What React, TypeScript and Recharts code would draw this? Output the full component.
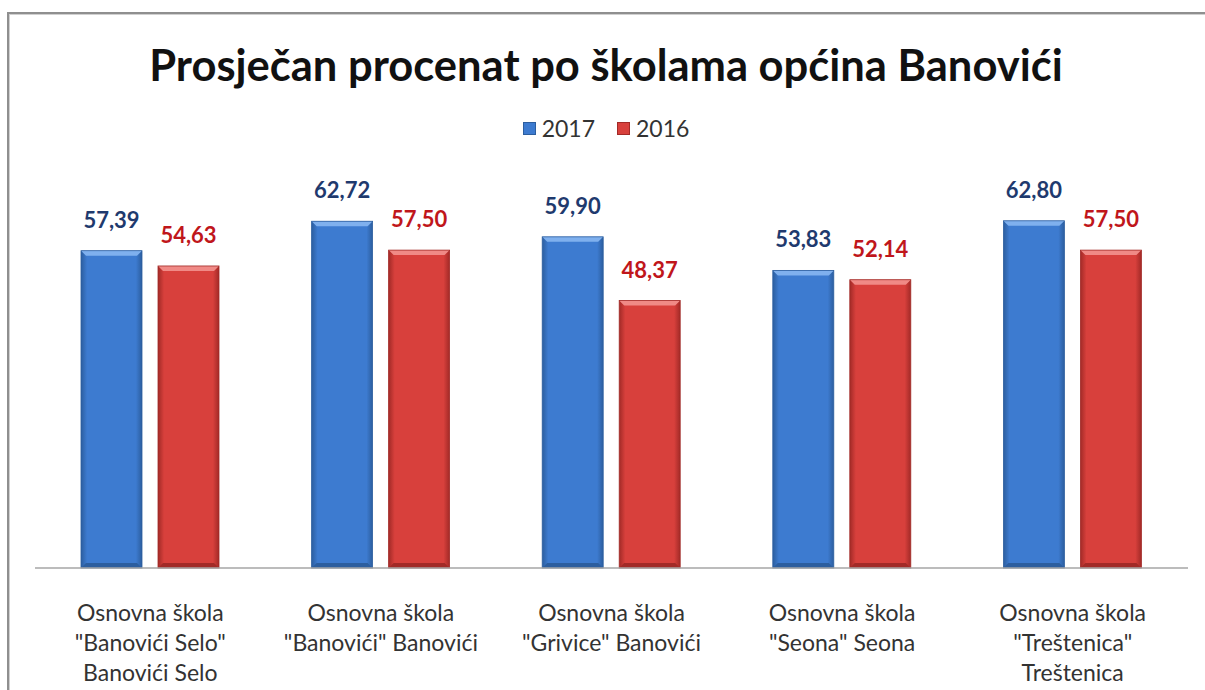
import React from "react";
import { Bar, BarChart, LabelList, XAxis, YAxis } from "recharts";

const schools = [
  "Osnovna škola\n\"Banovići Selo\"\nBanovići Selo",
  "Osnovna škola\n\"Banovići\" Banovići",
  "Osnovna škola\n\"Grivice\" Banovići",
  "Osnovna škola\n\"Seona\" Seona",
  "Osnovna škola\n\"Treštenica\"\nTreštenica",
];
const values2017 = [57.39, 62.72, 59.9, 53.83, 62.8];
const values2016 = [54.63, 57.5, 48.37, 52.14, 57.5];

const data = schools.map((name, i) => ({ name, y2017: values2017[i], y2016: values2016[i] }));

const FONT = "Lato, 'Open Sans', sans-serif";

const palette = {
  blue: { main: "#3d7bd0", light: "#7fb0ee", dark: "#2c5e9f", label: "#1f3a6e" },
  red: { main: "#d8403c", light: "#f08a86", dark: "#a22a27", label: "#c0161b" },
};

function bevelBar(kind: "blue" | "red") {
  const c = palette[kind];
  return (props: any) => {
    const { x, y, width, height } = props;
    if (!height || height <= 0) return null;
    const b = 5;
    return (
      <g>
        <rect x={x} y={y} width={width} height={height} fill={`url(#grad-${kind})`} />
        <polygon
          points={`${x},${y} ${x + width},${y} ${x + width - b},${y + b} ${x + b},${y + b}`}
          fill={c.light}
        />
        <polygon
          points={`${x},${y + height} ${x + width},${y + height} ${x + width - b},${y + height - b} ${x + b},${y + height - b}`}
          fill={c.dark}
        />
        <rect x={x} y={y} width={width} height={height} fill="none" stroke={c.dark} strokeWidth={0.8} />
      </g>
    );
  };
}

function valueLabel(color: string) {
  return (props: any) => {
    const { x, y, width, value } = props;
    return (
      <text
        x={x + width / 2}
        y={y - 23}
        textAnchor="middle"
        fill={color}
        fontFamily={FONT}
        fontWeight={700}
        fontSize={22}
      >
        {Number(value).toFixed(2).replace(".", ",")}
      </text>
    );
  };
}

function SchoolTick(props: any) {
  const { x, y, payload } = props;
  const lines = String(payload.value).split("\n");
  return (
    <g>
      {lines.map((line: string, i: number) => (
        <text
          key={i}
          x={x}
          y={y + 45 + i * 30}
          textAnchor="middle"
          fill="#333"
          fontFamily={FONT}
          fontSize={23}
        >
          {line}
        </text>
      ))}
    </g>
  );
}

function LegendBox() {
  const items = [
    { label: "2017", kind: "blue" as const },
    { label: "2016", kind: "red" as const },
  ];
  return (
    <div style={{ display: "flex", justifyContent: "center", gap: 22, fontFamily: FONT, fontSize: 23, color: "#333" }}>
      {items.map((it) => (
        <div key={it.label} style={{ display: "flex", alignItems: "center", gap: 6 }}>
          <span
            style={{
              width: 11,
              height: 11,
              background: palette[it.kind].main,
              border: `1px solid ${palette[it.kind].dark}`,
              display: "inline-block",
            }}
          />
          <span>{it.label}</span>
        </div>
      ))}
    </div>
  );
}

export default function App() {
  return (
    <div style={{ position: "absolute", left: 0, top: 0, width: 1205, height: 690, background: "#fff", overflow: "hidden" }}>
      <div
        style={{
          position: "absolute",
          left: 7,
          top: 12,
          width: 1220,
          height: 700,
          borderLeft: "2px solid #8f8f8f",
          borderTop: "2px solid #8f8f8f",
          boxShadow: "inset 1px 1px 0 #d0d0d0",
        }}
      />
      <div
        style={{
          position: "absolute",
          left: 0,
          top: 38,
          width: 1212,
          textAlign: "center",
          fontFamily: FONT,
          fontWeight: 700,
          fontSize: 43.5,
          color: "#111",
        }}
      >
        Prosječan procenat po školama općina Banovići
      </div>
      <div style={{ position: "absolute", left: 0, top: 114, width: 1212 }}>
        <LegendBox />
      </div>
      <div style={{ position: "absolute", left: 0, top: 0 }}>
        <BarChart
          width={1205}
          height={690}
          data={data}
          margin={{ top: 181, right: 17, bottom: 0, left: 35 }}
          barGap={16}
          barSize={61}
        >
          <defs>
            {(["blue", "red"] as const).map((k) => (
              <linearGradient key={k} id={`grad-${k}`} x1="0" y1="0" x2="1" y2="0">
                <stop offset="0%" stopColor={palette[k].dark} />
                <stop offset="10%" stopColor={palette[k].main} />
                <stop offset="90%" stopColor={palette[k].main} />
                <stop offset="100%" stopColor={palette[k].dark} />
              </linearGradient>
            ))}
          </defs>
          <XAxis
            dataKey="name"
            height={122}
            axisLine={{ stroke: "#a6a6a6", strokeWidth: 1.5 }}
            tickLine={false}
            interval={0}
            tick={<SchoolTick />}
          />
          <YAxis hide domain={[0, 70]} />
          <Bar dataKey="y2017" name="2017" fill={palette.blue.main} shape={bevelBar("blue")} isAnimationActive={false}>
            <LabelList dataKey="y2017" content={valueLabel(palette.blue.label)} />
          </Bar>
          <Bar dataKey="y2016" name="2016" fill={palette.red.main} shape={bevelBar("red")} isAnimationActive={false}>
            <LabelList dataKey="y2016" content={valueLabel(palette.red.label)} />
          </Bar>
        </BarChart>
      </div>
    </div>
  );
}
